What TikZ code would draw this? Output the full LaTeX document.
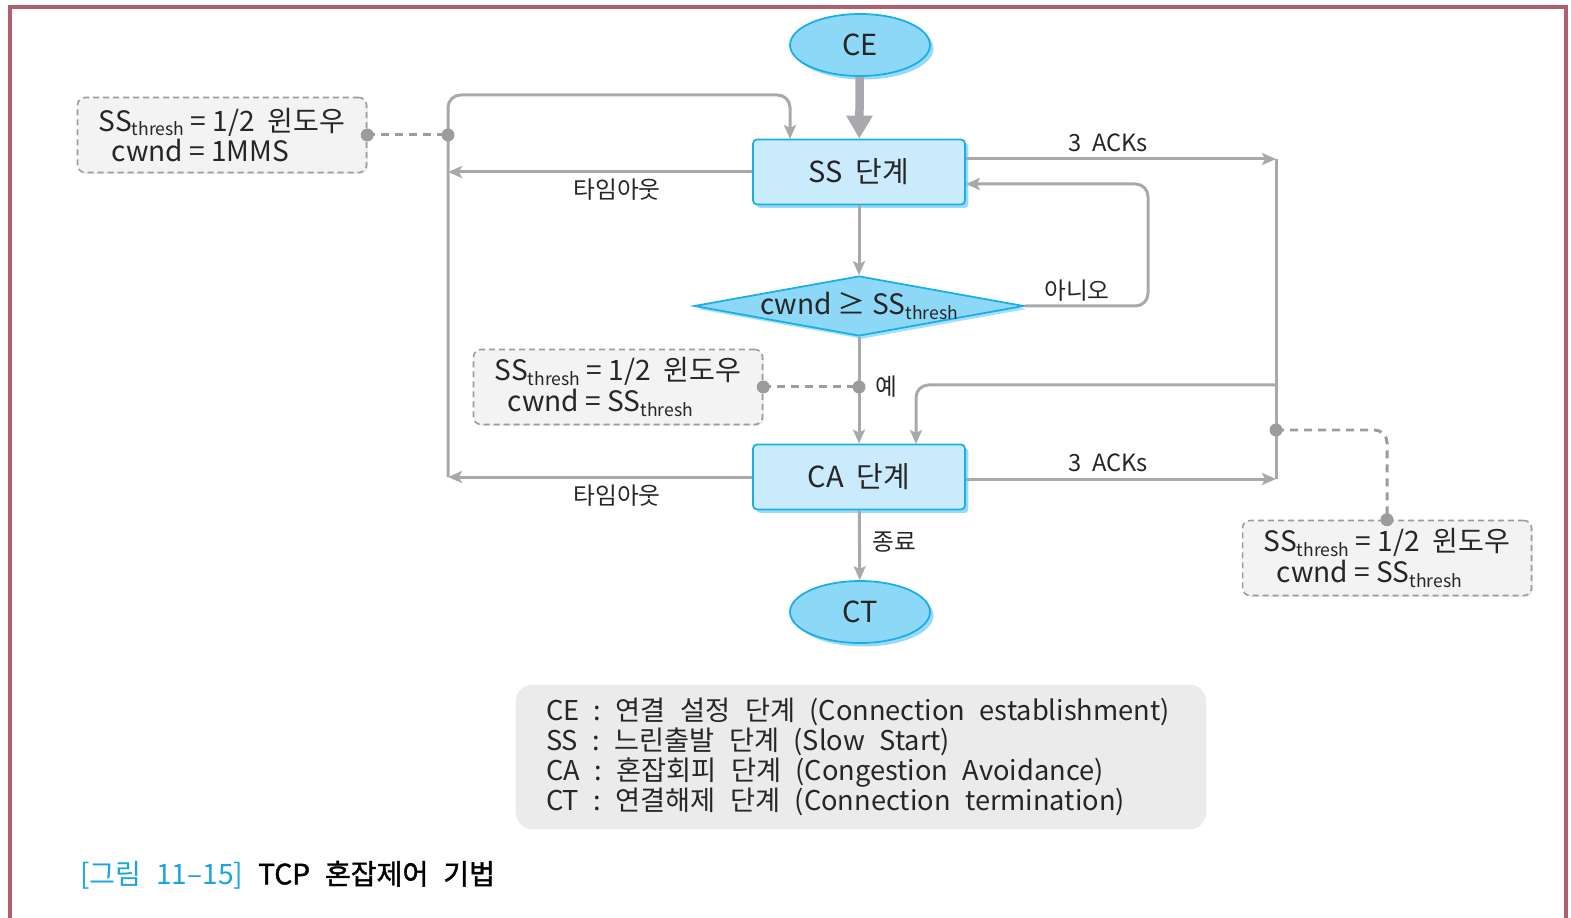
\documentclass[tikz,border=0pt]{standalone}
\usepackage{fontspec}
\setmainfont{Noto Sans CJK KR}
\newfontfamily\capfont{Noto Sans CJK KR}[FakeBold=1.5]
\usetikzlibrary{shapes.geometric,arrows.meta,shadows}

\definecolor{framec}{HTML}{B0606F}
\definecolor{edgeblue}{HTML}{1AAEE8}
\definecolor{ovalblue}{HTML}{8DD8F6}
\definecolor{boxblue}{HTML}{C9EBFB}
\definecolor{linegray}{HTML}{A8A9AC}
\definecolor{dashgray}{HTML}{9C9C9C}
\definecolor{notefill}{HTML}{F3F3F3}
\definecolor{legfill}{HTML}{EBEBEB}
\definecolor{txt}{HTML}{262626}
\definecolor{capblue}{HTML}{1BA3E2}

\newcommand{\thr}{\raisebox{-0.3ex}{\fontsize{10}{10}\selectfont thresh}}
\newcommand{\wide}{\spaceskip=0.53em plus 0.1em\relax}

\tikzset{
  frame/.style={draw=framec, line width=0.08cm},
  term/.style={ellipse, draw=edgeblue, line width=1pt, fill=ovalblue,
    minimum width=2.8cm, minimum height=1.24cm, text=txt,
    font=\fontsize{16.5}{18}\selectfont,
    drop shadow={shadow xshift=0.07cm, shadow yshift=-0.07cm, fill=edgeblue, opacity=0.45}},
  stage/.style={rectangle, rounded corners=0.08cm, draw=edgeblue, line width=1pt, fill=boxblue,
    minimum width=4.24cm, minimum height=1.3cm, text=txt,
    font=\fontsize{16.5}{18}\selectfont,
    drop shadow={shadow xshift=0.07cm, shadow yshift=-0.07cm, fill=edgeblue, opacity=0.45}},
  test/.style={diamond, draw=edgeblue, line width=1pt, fill=ovalblue, aspect=5.5,
    inner sep=-1.1pt, minimum width=6.6cm, minimum height=1.2cm, text=txt,
    font=\fontsize{16}{18}\selectfont,
    drop shadow={shadow xshift=0.06cm, shadow yshift=-0.06cm, fill=edgeblue, opacity=0.4}},
  note/.style={rectangle, rounded corners=0.15cm, draw=dashgray, dashed, line width=0.9pt,
    dash pattern=on 0.12cm off 0.08cm, fill=notefill, align=left, text=txt,
    minimum width=5.78cm, minimum height=1.5cm,
    font=\fontsize{16}{17.5}\selectfont,
    drop shadow={shadow xshift=0.03cm, shadow yshift=-0.03cm, fill=gray, opacity=0.15}},
  flow/.style={draw=linegray, line width=0.06cm},
  tip/.style={-{Stealth[length=0.28cm, width=0.24cm, inset=0.06cm]}},
  dashline/.style={draw=dashgray, line width=0.06cm, dash pattern=on 0.16cm off 0.12cm},
  dot/.style={fill=dashgray},
  lbl/.style={text=txt, font=\fontsize{13.5}{15}\selectfont},
  legend/.style={rectangle, rounded corners=0.35cm, fill=legfill, text=txt,
    minimum width=13.82cm, minimum height=2.9cm, text width=12.6cm, align=left,
    font=\fontsize{15.5}{17.2}\selectfont}
}

\begin{document}
\begin{tikzpicture}[x=0.02cm,y=-0.02cm]
\useasboundingbox (0,0) rectangle (1571,918);

% page frame
\draw[frame] (10,925) -- (10,7) -- (1566,7) -- (1566,925);

% stages
\node[term] (ce) at (860,45) {CE};
\node[stage] (ss) at (859,172) {SS\ \ 단계};
\node[test] (cmp) at (859,306) {cwnd\ ≥\ SS\thr};
\node[stage] (ca) at (859,477) {CA\ \ 단계};
\node[term] (ct) at (860,612) {CT};

% notes
\node[note] (n1) at (222,135) {SS\thr\ =\ 1/2\ \ 윈도우\\\ \ cwnd\ =\ 1MMS};
\node[note] (n2) at (618,387) {SS\thr\ =\ 1/2\ \ 윈도우\\\ \ cwnd\ =\ SS\thr};
\node[note] (n3) at (1387,558) {SS\thr\ =\ 1/2\ \ 윈도우\\\ \ cwnd\ =\ SS\thr};

% points on the lines
\coordinate (lb) at (448,477);
\coordinate (lm) at (448,172);
\coordinate (ld) at (448,135);
\coordinate (lt) at (448,95);
\coordinate (ssin) at (790,139);
\coordinate (nr) at (1148,184);
\coordinate (md) at (859,387);
\coordinate (rt) at (1276,159);
\coordinate (rm) at (1276,385);
\coordinate (rd) at (1276,430);
\coordinate (rb) at (1276,479);
\coordinate (cain) at (916,444);

% main flow
\draw[flow, line width=0.17cm, -{Triangle[length=0.46cm, width=0.5cm]}] (ce) -- (ss);
\draw[flow, tip] (ss) -- (cmp);
\draw[flow, tip] (cmp) -- (ca);
\draw[flow, tip] (ca) -- (ct);

% timeouts
\draw[flow, tip] (ss.west |- lm) -- (lm);
\draw[flow, tip] (ca.west |- lb) -- (lb);
\draw[flow, tip, rounded corners=0.25cm] (lb) -- (lt) -| (ssin);

% no
\draw[flow, tip, rounded corners=0.25cm] (cmp.east) -| (nr) -- (ss.east |- nr);

% 3 ACKs
\draw[flow, tip] (ss.east |- rt) -- (rt);
\draw[flow, tip] (ca.east |- rb) -- (rb);
\draw[flow] (rt) -- (rb);
\draw[flow, tip, rounded corners=0.25cm] (rm) -| (cain);

% dashed links to notes
\draw[dashline] (n1.east) -- (ld);
\draw[dashline] (n2.east) -- (md);
\draw[dashline, rounded corners=0.25cm] (rd) -| (n3.north);
\foreach \p in {n1.east, ld, n2.east, md, rd, n3.north}
  \fill[dot] (\p) circle (0.13cm);

% labels
\node[lbl] (to1) at (617,190) {타임아웃};
\node[lbl] (to2) at (617,496) {타임아웃};
\node[lbl] (no) at (1077,291) {아니오};
\node[lbl] (yes) at (886,387) {예};
\node[lbl] (ack1) at (1108,143) {3\ \ ACKs};
\node[lbl] (ack2) at (1108,463) {3\ \ ACKs};
\node[lbl] (end) at (894,542) {종료};

% legend
\node[legend] (leg) at (861,757) {\wide CE : 연결 설정 단계 (Connection establishment)\\
\wide SS : 느린출발 단계 (Slow Start)\\
\wide CA : 혼잡회피 단계 (Congestion Avoidance)\\
\wide CT : 연결해제 단계 (Connection termination)};

% caption
\node[anchor=west, font=\fontsize{16}{18}\selectfont] (cap) at (74,875)
  {\wide\textcolor{capblue}{[그림 11–15]} {\capfont TCP 혼잡제어 기법}};
\end{tikzpicture}
\end{document}
